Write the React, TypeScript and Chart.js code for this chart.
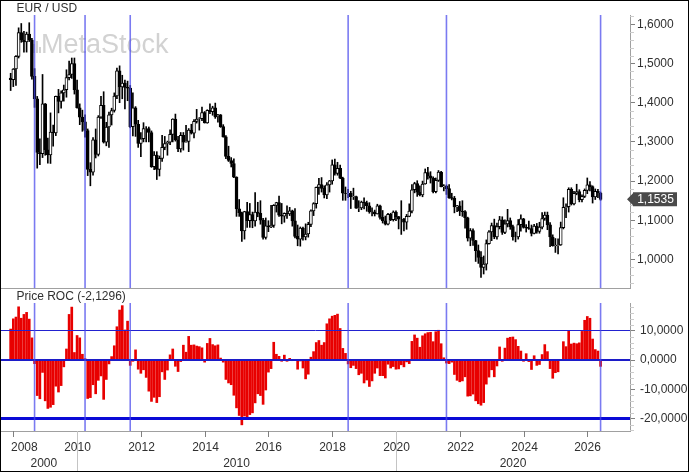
import React, { useEffect, useRef } from "react";
import { Chart, registerables } from "chart.js";

Chart.register(...registerables);

// ---------------- data (monthly EUR/USD, Dec 2007 .. Jun 2026) ----------------
const FIRST_MONTH = "2007-12";

const opens: number[] = [
  1.4630,
  1.4590, 1.4860, 1.5180, 1.5790, 1.5600, 1.5550, 1.5750, 1.5600, 1.4670, 1.4100, 1.2730, 1.2700,
  1.3970, 1.2800, 1.2670, 1.3250, 1.3230, 1.4160, 1.4030, 1.4250, 1.4330, 1.4640, 1.4720, 1.5000,
  1.4330, 1.3870, 1.3630, 1.3510, 1.3290, 1.2300, 1.2230, 1.3050, 1.2680, 1.3630, 1.3930, 1.2990,
  1.3380, 1.3690, 1.3800, 1.4170, 1.4810, 1.4400, 1.4500, 1.4390, 1.4370, 1.3390, 1.3870, 1.3450,
  1.2960, 1.3080, 1.3340, 1.3340, 1.3240, 1.2370, 1.2665, 1.2300, 1.2580, 1.2860, 1.2960, 1.2990,
  1.3190, 1.3580, 1.3055, 1.2820, 1.3170, 1.2995, 1.3010, 1.3300, 1.3220, 1.3525, 1.3585, 1.3590,
  1.3745, 1.3485, 1.3805, 1.3770, 1.3870, 1.3635, 1.3690, 1.3390, 1.3130, 1.2630, 1.2525, 1.2450,
  1.2100, 1.1290, 1.1195, 1.0730, 1.1220, 1.0990, 1.1145, 1.0985, 1.1210, 1.1175, 1.1005, 1.0565,
  1.0860, 1.0830, 1.0870, 1.1380, 1.1450, 1.1130, 1.1105, 1.1175, 1.1160, 1.1240, 1.0985, 1.0590,
  1.0520, 1.0800, 1.0575, 1.0650, 1.0895, 1.1240, 1.1425, 1.1840, 1.1910, 1.1815, 1.1645, 1.1905,
  1.2005, 1.2415, 1.2195, 1.2325, 1.2075, 1.1690, 1.1685, 1.1690, 1.1600, 1.1605, 1.1310, 1.1315,
  1.1465, 1.1445, 1.1370, 1.1215, 1.1215, 1.1165, 1.1370, 1.1075, 1.0985, 1.0900, 1.1150, 1.1015,
  1.1210, 1.1095, 1.1030, 1.1030, 1.0955, 1.1100, 1.1235, 1.1780, 1.1935, 1.1720, 1.1645, 1.1925,
  1.2215, 1.2135, 1.2075, 1.1730, 1.2020, 1.2230, 1.1860, 1.1870, 1.1810, 1.1580, 1.1560, 1.1340,
  1.1370, 1.1235, 1.1220, 1.1065, 1.0545, 1.0735, 1.0485, 1.0225, 1.0055, 0.9800, 0.9880, 1.0405,
  1.0705, 1.0865, 1.0575, 1.0840, 1.1015, 1.0690, 1.0910, 1.0995, 1.0840, 1.0575, 1.0575, 1.0890,
  1.1040, 1.0820, 1.0805, 1.0790, 1.0665, 1.0850, 1.0715, 1.0825, 1.1045, 1.1135, 1.0885, 1.0575,
  1.0355, 1.0360, 1.0375, 1.0815, 1.1330, 1.1345, 1.1787, 1.1415, 1.1685, 1.1733, 1.1527, 1.1611,
  1.1763, 1.1904, 1.1859, 1.1594, 1.1738, 1.1697,
];

const highs: number[] = [
  1.4750,
  1.4870, 1.5200, 1.5910, 1.6020, 1.5820, 1.5800, 1.6040, 1.5640, 1.4870, 1.4160, 1.3080, 1.4720,
  1.3980, 1.3100, 1.3740, 1.3430, 1.4170, 1.4340, 1.4300, 1.4450, 1.4840, 1.5060, 1.5140, 1.5140,
  1.4580, 1.3970, 1.3810, 1.3690, 1.3330, 1.2470, 1.3110, 1.3330, 1.3670, 1.4160, 1.4280, 1.3500,
  1.3760, 1.3860, 1.4250, 1.4880, 1.4940, 1.4700, 1.4580, 1.4550, 1.4440, 1.4250, 1.3900, 1.3550,
  1.3240, 1.3490, 1.3390, 1.3380, 1.3280, 1.2750, 1.2750, 1.2640, 1.3170, 1.3140, 1.3020, 1.3310,
  1.3590, 1.3710, 1.3140, 1.3240, 1.3240, 1.3420, 1.3340, 1.3450, 1.3570, 1.3830, 1.3620, 1.3890,
  1.3775, 1.3820, 1.3970, 1.3910, 1.3990, 1.3700, 1.3700, 1.3440, 1.3160, 1.2890, 1.2600, 1.2570,
  1.2110, 1.1530, 1.1210, 1.1230, 1.1460, 1.1430, 1.1210, 1.1710, 1.1460, 1.1500, 1.1050, 1.1060,
  1.0990, 1.1380, 1.1400, 1.1460, 1.1620, 1.1430, 1.1190, 1.1370, 1.1330, 1.1260, 1.1300, 1.0880,
  1.0830, 1.0830, 1.0910, 1.0950, 1.1270, 1.1450, 1.1850, 1.2070, 1.2090, 1.1880, 1.1960, 1.2020,
  1.2540, 1.2560, 1.2480, 1.2410, 1.2100, 1.1850, 1.1790, 1.1740, 1.1820, 1.1620, 1.1500, 1.1490,
  1.1570, 1.1490, 1.1450, 1.1320, 1.1260, 1.1410, 1.1390, 1.1250, 1.1110, 1.1180, 1.1180, 1.1240,
  1.1240, 1.1100, 1.1500, 1.1050, 1.1150, 1.1420, 1.1910, 1.1970, 1.2010, 1.1880, 1.2000, 1.2310,
  1.2350, 1.2240, 1.2110, 1.2080, 1.2270, 1.2250, 1.1910, 1.1900, 1.1910, 1.1690, 1.1610, 1.1380,
  1.1480, 1.1500, 1.1250, 1.1080, 1.0790, 1.0780, 1.0490, 1.0370, 1.0200, 1.0090, 1.0500, 1.0740,
  1.0930, 1.1030, 1.0930, 1.1100, 1.1090, 1.1010, 1.1280, 1.1060, 1.0880, 1.0700, 1.1020, 1.1140,
  1.1050, 1.0890, 1.0980, 1.0880, 1.0900, 1.0920, 1.0950, 1.1200, 1.1210, 1.1210, 1.0940, 1.0630,
  1.0535, 1.0530, 1.0955, 1.1575, 1.1420, 1.1830, 1.1830, 1.1740, 1.1920, 1.1780, 1.1650, 1.1800,
  1.2080, 1.1990, 1.1880, 1.1800, 1.1790, 1.1720,
];

const lows: number[] = [
  1.4310,
  1.4410, 1.4440, 1.5140, 1.5540, 1.5290, 1.5290, 1.5560, 1.4600, 1.3880, 1.2330, 1.2420, 1.2600,
  1.2660, 1.2460, 1.2450, 1.2890, 1.3160, 1.3740, 1.3860, 1.4040, 1.4140, 1.4580, 1.4620, 1.4220,
  1.3860, 1.3440, 1.3270, 1.3120, 1.2140, 1.1880, 1.2150, 1.2590, 1.2640, 1.3600, 1.2970, 1.2900,
  1.2860, 1.3430, 1.3760, 1.4100, 1.4000, 1.4100, 1.3840, 1.4050, 1.3360, 1.3150, 1.3140, 1.2860,
  1.2620, 1.3000, 1.3000, 1.3000, 1.2350, 1.2290, 1.2040, 1.2130, 1.2500, 1.2800, 1.2660, 1.2930,
  1.3000, 1.3020, 1.2750, 1.2740, 1.2790, 1.2990, 1.2750, 1.3200, 1.3100, 1.3480, 1.3300, 1.3540,
  1.3480, 1.3475, 1.3720, 1.3680, 1.3600, 1.3500, 1.3370, 1.3120, 1.2570, 1.2500, 1.2360, 1.2090,
  1.1100, 1.1100, 1.0460, 1.0520, 1.0820, 1.0820, 1.0810, 1.0850, 1.1090, 1.0900, 1.0520, 1.0520,
  1.0710, 1.0810, 1.0820, 1.1210, 1.1100, 1.0910, 1.0950, 1.1050, 1.1120, 1.0850, 1.0550, 1.0350,
  1.0340, 1.0490, 1.0500, 1.0570, 1.0840, 1.1120, 1.1310, 1.1660, 1.1720, 1.1570, 1.1550, 1.1720,
  1.1920, 1.2150, 1.2150, 1.2060, 1.1510, 1.1510, 1.1580, 1.1300, 1.1530, 1.1300, 1.1220, 1.1270,
  1.1290, 1.1230, 1.1180, 1.1110, 1.1110, 1.1160, 1.1030, 1.0930, 1.0880, 1.0880, 1.0990, 1.0980,
  1.0990, 1.0780, 1.0640, 1.0730, 1.0770, 1.1090, 1.1190, 1.1700, 1.1610, 1.1620, 1.1600, 1.1920,
  1.2050, 1.1950, 1.1700, 1.1700, 1.1990, 1.1850, 1.1750, 1.1660, 1.1560, 1.1520, 1.1190, 1.1220,
  1.1120, 1.1100, 1.0800, 1.0470, 1.0350, 1.0360, 0.9950, 0.9900, 0.9540, 0.9630, 0.9730, 1.0390,
  1.0480, 1.0530, 1.0520, 1.0780, 1.0640, 1.0660, 1.0830, 1.0770, 1.0490, 1.0450, 1.0520, 1.0720,
  1.0800, 1.0700, 1.0770, 1.0600, 1.0650, 1.0670, 1.0670, 1.0780, 1.1000, 1.0760, 1.0330, 1.0340,
  1.0180, 1.0140, 1.0360, 1.0780, 1.1065, 1.1210, 1.1390, 1.1390, 1.1650, 1.1470, 1.1470, 1.1580,
  1.1680, 1.1750, 1.1440, 1.1530, 1.1580, 1.1510,
];

const closes: number[] = [
  1.4590,
  1.4860, 1.5180, 1.5790, 1.5600, 1.5550, 1.5750, 1.5600, 1.4670, 1.4100, 1.2730, 1.2700, 1.3970,
  1.2800, 1.2670, 1.3250, 1.3230, 1.4160, 1.4030, 1.4250, 1.4330, 1.4640, 1.4720, 1.5000, 1.4330,
  1.3870, 1.3630, 1.3510, 1.3290, 1.2300, 1.2230, 1.3050, 1.2680, 1.3630, 1.3930, 1.2990, 1.3380,
  1.3690, 1.3800, 1.4170, 1.4810, 1.4400, 1.4500, 1.4390, 1.4370, 1.3390, 1.3870, 1.3450, 1.2960,
  1.3080, 1.3340, 1.3340, 1.3240, 1.2370, 1.2665, 1.2300, 1.2580, 1.2860, 1.2960, 1.2990, 1.3190,
  1.3580, 1.3055, 1.2820, 1.3170, 1.2995, 1.3010, 1.3300, 1.3220, 1.3525, 1.3585, 1.3590, 1.3745,
  1.3485, 1.3805, 1.3770, 1.3870, 1.3635, 1.3690, 1.3390, 1.3130, 1.2630, 1.2525, 1.2450, 1.2100,
  1.1290, 1.1195, 1.0730, 1.1220, 1.0990, 1.1145, 1.0985, 1.1210, 1.1175, 1.1005, 1.0565, 1.0860,
  1.0830, 1.0870, 1.1380, 1.1450, 1.1130, 1.1105, 1.1175, 1.1160, 1.1240, 1.0985, 1.0590, 1.0520,
  1.0800, 1.0575, 1.0650, 1.0895, 1.1240, 1.1425, 1.1840, 1.1910, 1.1815, 1.1645, 1.1905, 1.2005,
  1.2415, 1.2195, 1.2325, 1.2075, 1.1690, 1.1685, 1.1690, 1.1600, 1.1605, 1.1310, 1.1315, 1.1465,
  1.1445, 1.1370, 1.1215, 1.1215, 1.1165, 1.1370, 1.1075, 1.0985, 1.0900, 1.1150, 1.1015, 1.1210,
  1.1095, 1.1030, 1.1030, 1.0955, 1.1100, 1.1235, 1.1780, 1.1935, 1.1720, 1.1645, 1.1925, 1.2215,
  1.2135, 1.2075, 1.1730, 1.2020, 1.2230, 1.1860, 1.1870, 1.1810, 1.1580, 1.1560, 1.1340, 1.1370,
  1.1235, 1.1220, 1.1065, 1.0545, 1.0735, 1.0485, 1.0225, 1.0055, 0.9800, 0.9880, 1.0405, 1.0705,
  1.0865, 1.0575, 1.0840, 1.1015, 1.0690, 1.0910, 1.0995, 1.0840, 1.0575, 1.0575, 1.0890, 1.1040,
  1.0820, 1.0805, 1.0790, 1.0665, 1.0850, 1.0715, 1.0825, 1.1045, 1.1135, 1.0885, 1.0575, 1.0355,
  1.0360, 1.0375, 1.0815, 1.1330, 1.1345, 1.1787, 1.1415, 1.1685, 1.1733, 1.1527, 1.1611, 1.1763,
  1.1904, 1.1859, 1.1594, 1.1738, 1.1697, 1.1535,
];

// 12-month Price ROC (%)
const priceRoc: number[] = [
  10.6,
  14.1, 14.7, 18.2, 14.3, 15.6, 16.3, 14.0, 7.6, -1.2, -12.1, -13.2, -4.2,
  -13.9, -16.5, -16.1, -15.2, -8.9, -10.9, -8.7, -2.3, 3.8, 15.6, 18.1, 2.6,
  8.4, 7.6, 2.0, 0.5, -13.1, -12.8, -8.4, -11.5, -6.9, -5.4, -13.4, -6.6,
  -1.3, 1.2, 4.9, 11.4, 17.1, 18.6, 10.3, 13.3, -1.8, -0.4, 3.5, -3.1,
  -4.5, -3.3, -5.9, -10.6, -14.1, -12.7, -14.5, -12.5, -4.0, -6.6, -3.4, 1.8,
  3.8, -2.1, -3.9, -0.5, 5.1, 2.7, 8.1, 5.1, 5.2, 4.8, 4.6, 4.2,
  -0.7, 5.7, 7.4, 5.3, 4.9, 5.2, 0.7, -0.7, -6.6, -7.8, -8.4, -12.0,
  -16.3, -18.9, -22.1, -19.1, -19.4, -18.6, -18.0, -14.6, -11.5, -12.1, -15.1, -10.2,
  -4.1, -2.9, 6.1, 2.0, 1.3, -0.4, 1.7, -0.4, 0.6, -0.2, 0.2, -3.1,
  -0.3, -2.7, -6.4, -4.8, 1.0, 2.9, 6.0, 6.7, 5.1, 6.0, 12.4, 14.1,
  15.0, 15.3, 15.7, 10.8, 4.0, 2.3, -1.3, -2.6, -1.8, -2.9, -5.0, -4.5,
  -7.8, -6.8, -9.0, -7.1, -4.5, -2.7, -5.3, -5.3, -6.1, -1.4, -2.7, -2.2,
  -3.1, -3.0, -1.6, -2.3, -0.6, -1.2, 6.4, 8.6, 7.5, 4.4, 8.3, 9.0,
  9.4, 9.5, 6.3, 9.7, 10.2, 5.6, 0.8, -1.0, -1.2, -0.7, -4.9, -6.9,
  -7.4, -7.1, -5.7, -12.3, -12.2, -11.6, -13.9, -14.9, -15.4, -14.5, -8.2, -5.8,
  -3.3, -5.7, -2.0, 4.5, -0.4, 4.1, 7.5, 7.8, 7.9, 7.0, 4.7, 3.1,
  -0.4, 2.2, -0.5, -3.2, 1.5, -1.8, -1.5, 1.9, 5.3, 2.9, -2.9, -6.2,
  -4.3, -4.0, 0.2, 6.3, 4.6, 10.1, 5.5, 5.8, 5.6, 5.9, 9.8, 13.6,
  14.9, 14.3, 7.2, 3.6, 3.1, -2.1296,
];

const priceTicks = [1.0, 1.1, 1.2, 1.3, 1.4, 1.5, 1.6];
const rocTicks = [10, 0, -10, -20];
const rocLevels = [10, 0, -20];
const yearTicks = [2008, 2010, 2012, 2014, 2016, 2018, 2020, 2022, 2024, 2026];
const decadeLabels = ["2000", "2010", "2020"];
const decadeStarts = ["2007-12", "2010-01", "2020-01"];
const signalMonths = ["2008-09", "2010-04", "2011-09", "2018-07", "2021-08", "2026-06"];

// ---------------- helpers / styles ----------------
const monthIndex = (ym: string) => {
  const [y, m] = ym.split("-").map(Number);
  return (y - 2008) * 12 + (m - 1);
};
const firstIdx = monthIndex(FIRST_MONTH);
const xIndex = closes.map((_, k) => firstIdx + k);
const fmt4 = (v: number) => v.toFixed(4).replace(".", ",");

const W = 687;
const TOP_H = 288;
const BOT_H = 182;
const AXIS_W = 58;
const X_MIN = -4.63;
const X_MAX = 232.07;
const P_MIN = 0.9273;
const P_MAX = 1.6237;
const R_MIN = -24.2;
const R_MAX = 19.5;
const FONT = "Arial, 'Liberation Sans', Helvetica, sans-serif";
const TEXT = "#303030";
const AXIS = "#a0a0a0";
const TICK = "#808080";
const MINOR = "#cccccc";
const SIGNAL = "rgba(70,70,235,0.72)";
const levelStyle: Record<string, { w: number; c: string }> = {
  "10": { w: 1, c: "#2222d0" },
  "0": { w: 2, c: "#1c1cc8" },
  "-20": { w: 3, c: "#0a0ad6" },
};

Chart.defaults.font.family = FONT;
Chart.defaults.color = TEXT;

function rightAxis(min: number, max: number, ticks: number[], padding: number) {
  return {
    type: "linear" as const,
    position: "right" as const,
    min,
    max,
    afterBuildTicks: (s: any) => {
      s.ticks = ticks.map((v) => ({ value: v }));
    },
    afterFit: (s: any) => {
      s.width = AXIS_W;
      s.paddingTop = 0;
      s.paddingBottom = 0;
      s.paddingLeft = 0;
      s.paddingRight = 0;
    },
    grid: { drawOnChartArea: false, drawTicks: true, tickLength: 5, tickColor: TICK, tickWidth: 1 },
    border: { display: true, color: AXIS, width: 1 },
    ticks: {
      padding,
      autoSkip: false,
      color: TEXT,
      font: { family: FONT, size: 12 },
      callback: (v: any) => fmt4(Number(v)),
    },
  };
}

function drawSignals(chart: any) {
  const { ctx, chartArea: a, scales } = chart;
  ctx.save();
  ctx.strokeStyle = SIGNAL;
  ctx.lineWidth = 1.6;
  for (const m of signalMonths) {
    const x = scales.x.getPixelForValue(monthIndex(m));
    ctx.beginPath();
    ctx.moveTo(x, a.top);
    ctx.lineTo(x, a.bottom);
    ctx.stroke();
  }
  ctx.restore();
}

function drawMinor(chart: any, step: number, major: number, from: number, to: number) {
  const { ctx, chartArea: a, scales } = chart;
  ctx.save();
  ctx.strokeStyle = MINOR;
  ctx.lineWidth = 1;
  const k0 = Math.ceil(from / step - 1e-9);
  const k1 = Math.floor(to / step + 1e-9);
  for (let k = k0; k <= k1; k++) {
    const v = k * step;
    const r = v / major;
    if (Math.abs(r - Math.round(r)) < 1e-6) continue;
    const y = Math.round(scales.y.getPixelForValue(v)) + 0.5;
    if (y < a.top || y > a.bottom) continue;
    ctx.beginPath();
    ctx.moveTo(a.right, y);
    ctx.lineTo(a.right + 4, y);
    ctx.stroke();
  }
  ctx.restore();
}

function drawTitle(chart: any, text: string) {
  const { ctx } = chart;
  ctx.save();
  ctx.font = `12px ${FONT}`;
  ctx.fillStyle = TEXT;
  ctx.textAlign = "left";
  ctx.textBaseline = "alphabetic";
  ctx.fillText(text, 15.5, 11);
  ctx.restore();
}

const upperPlugin = {
  id: "upperDecor",
  beforeDatasetsDraw(chart: any) {
    const { ctx } = chart;
    ctx.save();
    ctx.fillStyle = "#d2d2d2";
    ctx.fillRect(32, 43, 2, 9);
    ctx.fillRect(35, 40, 2, 12);
    ctx.fillRect(38, 46, 2, 6);
    ctx.font = `27px ${FONT}`;
    ctx.textAlign = "left";
    ctx.textBaseline = "alphabetic";
    ctx.fillText("MetaStock", 40, 52);
    ctx.restore();
  },
  afterDatasetsDraw(chart: any) {
    drawSignals(chart);
    const { ctx, chartArea: a } = chart;
    ctx.save();
    ctx.strokeStyle = AXIS;
    ctx.lineWidth = 1;
    ctx.beginPath();
    ctx.moveTo(a.left, a.bottom + 0.5);
    ctx.lineTo(a.right + 1, a.bottom + 0.5);
    ctx.stroke();
    ctx.restore();
  },
  afterDraw(chart: any) {
    drawMinor(chart, 0.02, 0.1, P_MIN, P_MAX);
    drawTitle(chart, "EUR / USD");
    const { ctx, chartArea: a, scales } = chart;
    const last = closes[closes.length - 1];
    const y = scales.y.getPixelForValue(last);
    const x0 = a.right - 3;
    ctx.save();
    ctx.fillStyle = "#4a4a4a";
    ctx.beginPath();
    ctx.moveTo(x0, y);
    ctx.lineTo(x0 + 6, y - 6);
    ctx.lineTo(x0 + 6, y - 7);
    ctx.lineTo(x0 + 50, y - 7);
    ctx.lineTo(x0 + 50, y + 7);
    ctx.lineTo(x0 + 6, y + 7);
    ctx.lineTo(x0 + 6, y + 6);
    ctx.closePath();
    ctx.fill();
    ctx.fillStyle = "#ffffff";
    ctx.font = `12px ${FONT}`;
    ctx.textAlign = "center";
    ctx.textBaseline = "middle";
    ctx.fillText(fmt4(last), x0 + 28.5, y + 0.5);
    ctx.restore();
  },
};

const lowerPlugin = {
  id: "lowerDecor",
  afterDatasetsDraw(chart: any) {
    const { ctx, chartArea: a, scales } = chart;
    ctx.save();
    for (const lv of rocLevels) {
      const st = levelStyle[String(lv)];
      let y = scales.y.getPixelForValue(lv);
      if (st.w % 2 === 1) y = Math.floor(y) + 0.5;
      else y = Math.round(y);
      ctx.strokeStyle = st.c;
      ctx.lineWidth = st.w;
      ctx.beginPath();
      ctx.moveTo(a.left, y);
      ctx.lineTo(a.right, y);
      ctx.stroke();
    }
    ctx.restore();
    drawSignals(chart);
  },
  afterDraw(chart: any) {
    drawMinor(chart, 2, 10, R_MIN, R_MAX);
    drawTitle(chart, `Price ROC (${fmt4(priceRoc[priceRoc.length - 1])})`);
    const { ctx, chartArea: a, scales, height } = chart;
    const xs = scales.x;
    ctx.save();
    ctx.strokeStyle = AXIS;
    ctx.lineWidth = 1;
    ctx.beginPath();
    ctx.moveTo(a.left, a.bottom + 0.5);
    ctx.lineTo(a.right + 1, a.bottom + 0.5);
    ctx.stroke();
    ctx.font = `12px ${FONT}`;
    ctx.fillStyle = TEXT;
    ctx.textAlign = "center";
    ctx.textBaseline = "alphabetic";
    for (const yr of yearTicks) {
      const px = Math.round(xs.getPixelForValue((yr - 2008) * 12)) + 0.5;
      ctx.strokeStyle = TICK;
      ctx.beginPath();
      ctx.moveTo(px, a.bottom);
      ctx.lineTo(px, a.bottom + 6);
      ctx.stroke();
      const label = String(yr);
      const w = ctx.measureText(label).width;
      const cx = Math.max(px, a.left + w / 2 + 10);
      ctx.fillText(label, cx, a.bottom + 20);
    }
    decadeStarts.forEach((s, k) => {
      const startPx = Math.max(a.left, xs.getPixelForValue(monthIndex(s)));
      const endPx =
        k < decadeStarts.length - 1 ? xs.getPixelForValue(monthIndex(decadeStarts[k + 1])) : a.right;
      if (k > 0) {
        const lx = Math.round(startPx) + 0.5;
        ctx.strokeStyle = "#c4c4c4";
        ctx.beginPath();
        ctx.moveTo(lx, a.bottom);
        ctx.lineTo(lx, height);
        ctx.stroke();
      }
      ctx.fillText(decadeLabels[k], (startPx + endPx) / 2, a.bottom + 36);
    });
    ctx.restore();
  },
};

export default function App() {
  const topRef = useRef<HTMLCanvasElement>(null);
  const botRef = useRef<HTMLCanvasElement>(null);

  useEffect(() => {
    document.body.style.margin = "0";
    const xScale = { type: "linear" as const, display: false, min: X_MIN, max: X_MAX, offset: false };

    const top = new Chart(topRef.current!, {
      type: "bar",
      data: {
        datasets: [
          {
            label: "body",
            data: xIndex.map((x, k) => ({ x, y: [opens[k], closes[k]] })) as any,
            backgroundColor: xIndex.map((_, k) => (closes[k] >= opens[k] ? "#ffffff" : "#000000")),
            borderColor: "#000000",
            borderWidth: 1,
            borderSkipped: false,
            barThickness: 3,
            grouped: false,
            order: 0,
          },
          {
            label: "wick",
            data: xIndex.map((x, k) => ({ x, y: [lows[k], highs[k]] })) as any,
            backgroundColor: "#000000",
            borderWidth: 0,
            barThickness: 1,
            grouped: false,
            order: 1,
          },
        ],
      },
      options: {
        responsive: false,
        maintainAspectRatio: false,
        animation: false,
        events: [],
        layout: { padding: { top: 14, bottom: 1, left: 0, right: 0 } },
        plugins: { legend: { display: false }, tooltip: { enabled: false } },
        scales: {
          x: xScale,
          y: rightAxis(P_MIN, P_MAX, priceTicks, 2) as any,
        },
      },
      plugins: [upperPlugin],
    });

    const bot = new Chart(botRef.current!, {
      type: "bar",
      data: {
        datasets: [
          {
            label: "Price ROC",
            data: xIndex.map((x, k) => ({ x, y: priceRoc[k] })) as any,
            backgroundColor: "#e80000",
            borderWidth: 0,
            barThickness: 2,
            grouped: false,
          },
        ],
      },
      options: {
        responsive: false,
        maintainAspectRatio: false,
        animation: false,
        events: [],
        layout: { padding: { top: 14, bottom: 40, left: 0, right: 0 } },
        plugins: { legend: { display: false }, tooltip: { enabled: false } },
        scales: {
          x: xScale,
          y: rightAxis(R_MIN, R_MAX, rocTicks, 5) as any,
        },
      },
      plugins: [lowerPlugin],
    });

    return () => {
      top.destroy();
      bot.destroy();
    };
  }, []);

  return (
    <div
      style={{
        position: "relative",
        width: 689,
        height: 472,
        boxSizing: "border-box",
        border: "1px solid #000",
        background: "#fff",
        overflow: "hidden",
      }}
    >
      <canvas
        ref={topRef}
        width={W}
        height={TOP_H}
        style={{ position: "absolute", left: 0, top: 0, width: W, height: TOP_H, display: "block" }}
      />
      <canvas
        ref={botRef}
        width={W}
        height={BOT_H}
        style={{ position: "absolute", left: 0, top: TOP_H, width: W, height: BOT_H, display: "block" }}
      />
    </div>
  );
}
